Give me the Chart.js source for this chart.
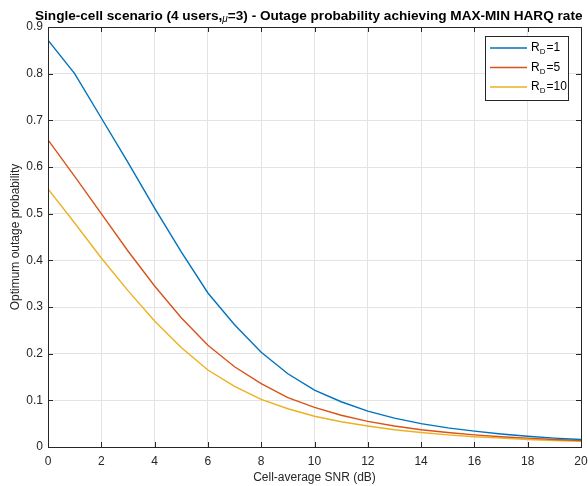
<!DOCTYPE html>
<html>
<head>
<meta charset="utf-8">
<script src="https://cdn.jsdelivr.net/npm/chart.js@4"></script>
<style>
  html, body { margin: 0; padding: 0; background: #fff; }
  #wrap { width: 588px; height: 486px; position: relative; }
</style>
</head>
<body>
<div id="wrap"><canvas id="c"></canvas></div>
<script>
// SNR axis (dB)
var snr = [ 0, 1, 2, 3, 4, 5, 6, 7, 8, 9, 10, 11, 12, 13, 14, 15, 16, 17, 18, 19, 20 ];

// outage probability per R_D
var rd1 = [ 0.872, 0.800, 0.705, 0.610, 0.512, 0.418, 0.330, 0.262, 0.203, 0.157, 0.122,
	0.097, 0.077, 0.062, 0.050, 0.041, 0.034, 0.028, 0.023, 0.019, 0.016 ];
var rd5 = [ 0.658, 0.580, 0.500, 0.420, 0.345, 0.277, 0.218, 0.172, 0.136, 0.106, 0.085,
	0.068, 0.055, 0.045, 0.037, 0.031, 0.026, 0.022, 0.019, 0.016, 0.014 ];
var rd10 = [ 0.553, 0.480, 0.405, 0.335, 0.270, 0.213, 0.165, 0.130, 0.102, 0.082, 0.066,
	0.054, 0.045, 0.037, 0.031, 0.026, 0.022, 0.019, 0.016, 0.014, 0.012 ];

var seriesNames = [ '1', '5', '10' ];
var seriesColors = [ '#0072BD', '#D95319', '#EDB120' ];

var FONT = 'Arial, "Liberation Sans", Helvetica, sans-serif';
var axisColor = '#262626';

function pts( ys ) {
	return snr.map( function ( x, i ) { return { x: x, y: ys[ i ] }; } );
}

// ticks inside the box, plus top/right box edges, title and legend
var boxPlugin = {
	id: 'box',
	afterDraw: function ( chart ) {
		var ctx = chart.ctx, a = chart.chartArea;
		var xs = chart.scales.x, ys = chart.scales.y;
		ctx.save();
		ctx.strokeStyle = axisColor;
		ctx.lineWidth = 1;
		ctx.beginPath();
		ctx.rect( Math.round( a.left ) + 0.5, Math.round( a.top ) + 0.5,
			Math.round( a.right - a.left ), Math.round( a.bottom - a.top ) );
		xs.ticks.forEach( function ( t ) {
			var px = Math.round( xs.getPixelForValue( t.value ) ) + 0.5;
			ctx.moveTo( px, a.bottom ); ctx.lineTo( px, a.bottom - 5 );
			ctx.moveTo( px, a.top ); ctx.lineTo( px, a.top + 5 );
		} );
		ys.ticks.forEach( function ( t ) {
			var py = Math.round( ys.getPixelForValue( t.value ) ) + 0.5;
			ctx.moveTo( a.left, py ); ctx.lineTo( a.left + 5, py );
			ctx.moveTo( a.right, py ); ctx.lineTo( a.right - 5, py );
		} );
		ctx.stroke();

		// title
		ctx.fillStyle = '#000';
		ctx.font = 'bold 13.6px ' + FONT;
		ctx.textAlign = 'left';
		ctx.textBaseline = 'alphabetic';
		var x0 = 35, yb = 20;
		var p1 = 'Single-cell scenario (4 users,';
		ctx.fillText( p1, x0, yb );
		x0 += ctx.measureText( p1 ).width;
		ctx.font = 'italic 10px ' + FONT;
		ctx.fillText( '\u03bc', x0, yb + 2 );
		x0 += ctx.measureText( '\u03bc' ).width;
		ctx.font = 'bold 13.6px ' + FONT;
		ctx.fillText( '=3) - Outage probability achieving MAX-MIN HARQ rate', x0, yb );

		// legend
		var lx = 485, ly = 36, lw = 83, lh = 64;
		ctx.fillStyle = '#fff';
		ctx.fillRect( lx, ly, lw, lh );
		ctx.strokeStyle = axisColor;
		ctx.strokeRect( lx + 0.5, ly + 0.5, lw, lh );
		chart.data.datasets.forEach( function ( ds, i ) {
			var ry = ly + 12 + i * 19.5;
			ctx.strokeStyle = ds.borderColor;
			ctx.lineWidth = 1.4;
			ctx.beginPath();
			ctx.moveTo( lx + 5, ry ); ctx.lineTo( lx + 42, ry );
			ctx.stroke();
			ctx.fillStyle = '#000';
			ctx.textBaseline = 'middle';
			ctx.font = '12px ' + FONT;
			var tx = lx + 46;
			ctx.fillText( 'R', tx, ry );
			tx += ctx.measureText( 'R' ).width;
			ctx.font = '8px ' + FONT;
			ctx.fillText( 'D', tx, ry + 4 );
			tx += ctx.measureText( 'D' ).width + 1;
			ctx.font = '12px ' + FONT;
			ctx.fillText( '=' + seriesNames[ i ], tx, ry );
		} );
		ctx.restore();
	}
};

new Chart( document.getElementById( 'c' ).getContext( '2d' ), {
	type: 'line',
	data: {
		datasets: [ rd1, rd5, rd10 ].map( function ( ys, i ) {
			return {
				label: 'R_D=' + seriesNames[ i ],
				data: pts( ys ),
				borderColor: seriesColors[ i ],
				backgroundColor: seriesColors[ i ],
				borderWidth: 1.4,
				pointRadius: 0,
				tension: 0,
				fill: false,
			};
		} ),
	},
	options: {
		responsive: true,
		maintainAspectRatio: false,
		animation: false,
		layout: { padding: { top: 27, right: 7, left: 0, bottom: 0 } },
		plugins: {
			legend: { display: false },
			title: { display: false },
			tooltip: { enabled: false },
		},
		scales: {
			x: {
				type: 'linear',
				min: 0,
				max: 20,
				afterFit: function ( s ) { s.height = 39; s.paddingLeft = 0; s.paddingRight = 0; },
				grid: { color: '#e3e3e3', drawTicks: false },
				border: { color: axisColor },
				ticks: { stepSize: 2, padding: 7, color: '#262626', font: { family: FONT, size: 12 }, maxRotation: 0 },
				title: { display: true, text: 'Cell-average SNR (dB)', color: '#262626', font: { family: FONT, size: 12 }, padding: { top: 0, bottom: 1 } },
			},
			y: {
				min: 0,
				max: 0.9,
				afterFit: function ( s ) { s.width = 48; s.paddingTop = 0; s.paddingBottom = 0; },
				grid: { color: '#e3e3e3', drawTicks: false },
				border: { color: axisColor },
				ticks: {
					stepSize: 0.1, padding: 5, color: '#262626', font: { family: FONT, size: 12 },
					callback: function ( v ) { return Math.round( v * 10 ) / 10; },
				},
				title: { display: true, text: 'Optimum outage probability', color: '#262626', font: { family: FONT, size: 12 }, padding: { top: 8, bottom: 0 } },
			},
		},
	},
	plugins: [ boxPlugin ],
} );
</script>
</body>
</html>
